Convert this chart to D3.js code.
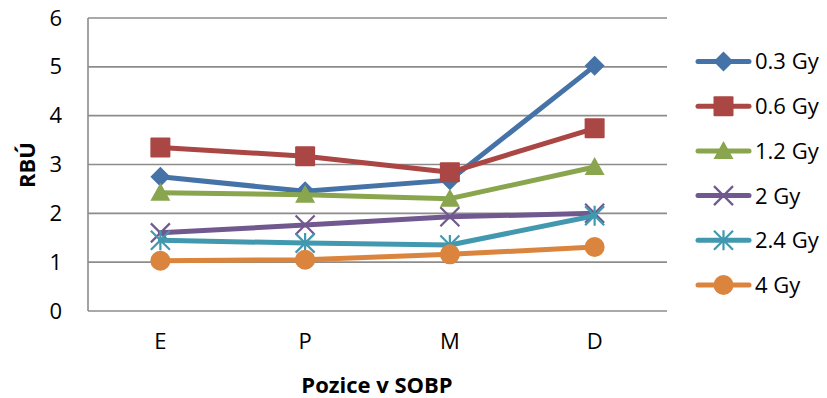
<!DOCTYPE html>
<html>
<head>
<meta charset="utf-8">
<script src="https://cdn.jsdelivr.net/npm/d3@7"></script>
<style>
  html, body { margin: 0; padding: 0; background: #fff; }
  svg { display: block; font-family: "Open Sans", "Liberation Sans", sans-serif; }
</style>
</head>
<body>
<svg id="chart" width="827" height="398"></svg>
<script>
// Positions along the spread-out Bragg peak
const categories = ["E", "P", "M", "D"];

// RBE values per dose level
const dose03 = [2.75, 2.45, 2.68, 5.02];
const dose06 = [3.35, 3.17, 2.84, 3.74];
const dose12 = [2.42, 2.38, 2.30, 2.95];
const dose2  = [1.60, 1.76, 1.93, 2.00];
const dose24 = [1.45, 1.39, 1.35, 1.95];
const dose4  = [1.03, 1.05, 1.16, 1.31];

const seriesNames = ["0.3 Gy", "0.6 Gy", "1.2 Gy", "2 Gy", "2.4 Gy", "4 Gy"];
const yTicks = [0, 1, 2, 3, 4, 5, 6];

const seriesValues = [dose03, dose06, dose12, dose2, dose24, dose4];
const colors = ["#4572A7", "#AA4643", "#89A54E", "#71588F", "#4198AF", "#DB843D"];
const markers = ["diamond", "square", "triangle", "x", "star", "circle"];

const series = seriesNames.map((name, i) => ({
  name, color: colors[i], marker: markers[i],
  values: seriesValues[i].map((v, j) => ({ cat: categories[j], v }))
}));

const svg = d3.select("#chart");
const plot = { left: 88, right: 667, top: 18, bottom: 311 };

const x = d3.scaleBand().domain(categories).range([plot.left, plot.right]);
const y = d3.scaleLinear().domain([0, 6]).range([plot.bottom, plot.top]);
const cx = c => x(c) + x.bandwidth() / 2;

// Horizontal gridlines
svg.append("g")
  .selectAll("line")
  .data(yTicks)
  .join("line")
  .attr("x1", plot.left).attr("x2", plot.right)
  .attr("y1", d => y(d)).attr("y2", d => y(d))
  .attr("stroke", "#8c8c8c").attr("stroke-width", 1.6);

// Value axis line
svg.append("line")
  .attr("x1", plot.left).attr("x2", plot.left)
  .attr("y1", plot.top).attr("y2", plot.bottom)
  .attr("stroke", "#8c8c8c").attr("stroke-width", 1.6);

// Y axis labels
const yAxis = d3.axisLeft(y).tickValues(yTicks).tickSize(0).tickPadding(0).tickFormat(d3.format("d"));
const gy = svg.append("g").attr("transform", `translate(${plot.left - 26},0)`).call(yAxis);
gy.select(".domain").remove();
gy.selectAll("text").attr("font-size", 22).attr("fill", "#000")
  .attr("font-family", "'Open Sans', sans-serif");

// X axis labels
const xAxis = d3.axisBottom(x).tickSize(0).tickPadding(0);
const gx = svg.append("g").attr("transform", `translate(0,${plot.bottom + 22})`).call(xAxis);
gx.select(".domain").remove();
gx.selectAll("text").attr("font-size", 22).attr("fill", "#000")
  .attr("font-family", "'Open Sans', sans-serif");

// Axis titles
svg.append("text")
  .attr("x", 377).attr("y", 393)
  .attr("text-anchor", "middle")
  .attr("font-size", 22).attr("font-weight", "bold")
  .text("Pozice v SOBP");

svg.append("text")
  .attr("transform", "translate(35,165) rotate(-90)")
  .attr("text-anchor", "middle")
  .attr("font-size", 22).attr("font-weight", "bold")
  .text("RBÚ");

// Marker drawing
function drawMarker(g, type, color, px, py) {
  const s = 10;
  if (type === "diamond") {
    g.append("path").attr("d", `M${px},${py - s}L${px + s},${py}L${px},${py + s}L${px - s},${py}Z`).attr("fill", color);
  } else if (type === "square") {
    g.append("rect").attr("x", px - s).attr("y", py - s).attr("width", 2 * s).attr("height", 2 * s).attr("rx", 1).attr("fill", color);
  } else if (type === "triangle") {
    g.append("path").attr("d", `M${px},${py - s}L${px + s},${py + s * 0.8}L${px - s},${py + s * 0.8}Z`).attr("fill", color);
  } else if (type === "circle") {
    g.append("circle").attr("cx", px).attr("cy", py).attr("r", s).attr("fill", color);
  } else if (type === "x") {
    const d = s * 0.95;
    g.append("path").attr("d", `M${px - d},${py - d}L${px + d},${py + d}M${px - d},${py + d}L${px + d},${py - d}`)
      .attr("stroke", color).attr("stroke-width", 2.2).attr("fill", "none");
  } else if (type === "star") {
    const d = s * 0.95;
    g.append("path").attr("d", `M${px - d},${py - d}L${px + d},${py + d}M${px - d},${py + d}L${px + d},${py - d}M${px},${py - s}L${px},${py + s}`)
      .attr("stroke", color).attr("stroke-width", 2.2).attr("fill", "none");
  }
}

const line = d3.line().x(d => cx(d.cat)).y(d => y(d.v));

// Series lines and markers
series.forEach(s => {
  const g = svg.append("g");
  g.append("path").datum(s.values).attr("d", line)
    .attr("fill", "none").attr("stroke", s.color).attr("stroke-width", 5)
    .attr("stroke-linejoin", "round").attr("stroke-linecap", "round");
  s.values.forEach(d => drawMarker(g, s.marker, s.color, cx(d.cat), y(d.v)));
});

// Legend
const legend = svg.append("g");
series.forEach((s, i) => {
  const ly = 61.5 + i * 44.7;
  const g = legend.append("g");
  g.append("line").attr("x1", 698).attr("x2", 749).attr("y1", ly).attr("y2", ly)
    .attr("stroke", s.color).attr("stroke-width", 5).attr("stroke-linecap", "round");
  drawMarker(g, s.marker, s.color, 723.5, ly);
  g.append("text").attr("x", 755).attr("y", ly).attr("dy", "0.36em")
    .attr("font-size", 22).attr("fill", "#000").text(s.name);
});
</script>
</body>
</html>
